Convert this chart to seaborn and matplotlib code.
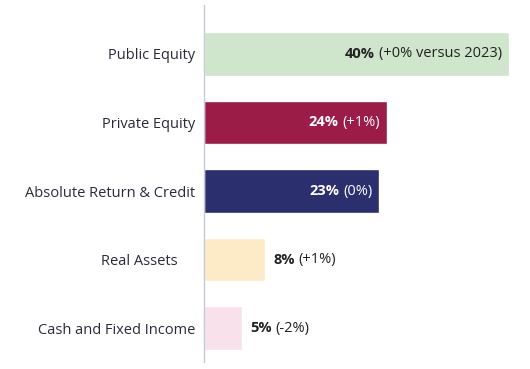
import matplotlib
matplotlib.use("Agg")
import matplotlib.pyplot as plt
import matplotlib.transforms as mtransforms
import seaborn as sns
import pandas as pd

categories = ["Public Equity", "Private Equity", "Absolute Return & Credit", "Real Assets", "Cash and Fixed Income"]
values = [40, 24, 23, 8, 5]
changes = ["(+0% versus 2023)", "(+1%)", "(0%)", "(+1%)", "(-2%)"]
colors = ["#cfe5cc", "#9b1c47", "#2b2f6e", "#fdebc8", "#f8e1ea"]
inside = [True, True, True, False, False]
inside_text_colors = ["#222222", "#ffffff", "#ffffff", "#222222", "#222222"]

sns.set_theme(style="white")
plt.rcParams["font.family"] = ["Open Sans", "DejaVu Sans"]

df = pd.DataFrame({"category": categories, "value": values})

W, H = 530, 369
fig = plt.figure(figsize=(W / 100, H / 100), dpi=100)
ax = fig.add_axes([204 / W, 7 / H, 326 / W, 357 / H])

sns.barplot(data=df, y="category", x="value", hue="category", palette=colors,
            orient="h", width=0.64, legend=False, ax=ax, saturation=1)

ax.set_xlim(0, 326 / 7.625)
ax.set_ylim(4.496, -0.715)
ax.set_xlabel("")
ax.set_ylabel("")
ax.set_xticks([])
for s in ["top", "right", "bottom"]:
    ax.spines[s].set_visible(False)
ax.spines["left"].set_color("#c3cad3")
ax.spines["left"].set_linewidth(1.0)
fs = 10.5
ax.tick_params(axis="y", length=0, pad=6.5, labelsize=fs, labelcolor="#2a2a3a")

# Real Assets label sits slightly further left in the reference
for lbl in ax.get_yticklabels():
    if lbl.get_text() == "Real Assets":
        lbl.set_transform(lbl.get_transform() +
                          mtransforms.ScaledTranslation(-17 / 100, 0, fig.dpi_scale_trans))

fig.canvas.draw()
renderer = fig.canvas.get_renderer()
for i, (v, ch, inn, tc) in enumerate(zip(values, changes, inside, inside_text_colors)):
    if inn:
        off = mtransforms.offset_copy(ax.transData, fig=fig, x=-7, y=0, units="dots")
        t_norm = ax.text(v, i, ch, ha="right", va="center", fontsize=fs, color=tc, transform=off)
        fig.canvas.draw()
        bb = t_norm.get_window_extent(renderer)
        wpx = bb.width + 4
        off2 = mtransforms.offset_copy(ax.transData, fig=fig, x=-7 - wpx, y=0, units="dots")
        ax.text(v, i, f"{v}%", ha="right", va="center", fontsize=fs, fontweight="bold",
                color=tc, transform=off2)
    else:
        off = mtransforms.offset_copy(ax.transData, fig=fig, x=8, y=0, units="dots")
        t_bold = ax.text(v, i, f"{v}%", ha="left", va="center", fontsize=fs, fontweight="bold",
                         color=tc, transform=off)
        fig.canvas.draw()
        bb = t_bold.get_window_extent(renderer)
        off2 = mtransforms.offset_copy(ax.transData, fig=fig, x=8 + bb.width + 4, y=0, units="dots")
        ax.text(v, i, ch, ha="left", va="center", fontsize=fs, color=tc, transform=off2)

fig.savefig("out.png", dpi=100, facecolor="white")
